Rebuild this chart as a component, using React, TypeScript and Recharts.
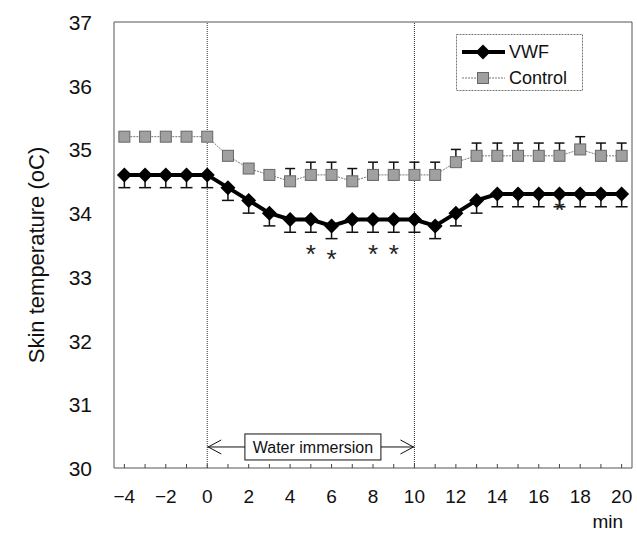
import React from 'react'
import {
  ComposedChart, Line, XAxis, YAxis, ErrorBar, ReferenceLine,
  ReferenceArea, ReferenceDot, Scatter,
} from 'recharts'

// minutes relative to the start of water immersion
const minutes = [-4, -3, -2, -1, 0, 1, 2, 3, 4, 5, 6, 7, 8, 9, 10, 11, 12, 13, 14, 15, 16, 17, 18, 19, 20]

const vwf = [34.6, 34.6, 34.6, 34.6, 34.6, 34.4, 34.2, 34.0, 33.9, 33.9, 33.8, 33.9, 33.9,
  33.9, 33.9, 33.8, 34.0, 34.2, 34.3, 34.3, 34.3, 34.3, 34.3, 34.3, 34.3]
const vwfSe = [0.2, 0.2, 0.2, 0.2, 0.2, 0.2, 0.2, 0.2, 0.2, 0.2, 0.2, 0.2, 0.2,
  0.2, 0.2, 0.2, 0.2, 0.2, 0.2, 0.2, 0.2, 0.2, 0.2, 0.2, 0.2]

const control = [35.2, 35.2, 35.2, 35.2, 35.2, 34.9, 34.7, 34.6, 34.5, 34.6, 34.6, 34.5, 34.6,
  34.6, 34.6, 34.6, 34.8, 34.9, 34.9, 34.9, 34.9, 34.9, 35.0, 34.9, 34.9]
const controlSe = [0, 0, 0, 0, 0, 0, 0, 0, 0.2, 0.2, 0.2, 0.2, 0.2,
  0.2, 0.2, 0.2, 0.2, 0.2, 0.2, 0.2, 0.2, 0.2, 0.2, 0.2, 0.2]

// significance marks
const starMinutes = [5, 6, 8, 9, 17]
const starTemps = [33.45, 33.38, 33.45, 33.45, 34.15]

const yTicks = [30, 31, 32, 33, 34, 35, 36, 37]

const FONT = '"Liberation Sans", Arial, sans-serif'

const data = minutes.map((m, i) => ({
  min: m,
  vwf: vwf[i],
  vwfErr: [vwfSe[i], 0],
  control: control[i],
  controlErr: [0, controlSe[i]],
}))

const stars = starMinutes.map((m, i) => ({ min: m, temp: starTemps[i] }))

const Diamond = ({ cx, cy }: any) => (
  <polygon
    points={`${cx},${cy - 7.5} ${cx + 7.5},${cy} ${cx},${cy + 7.5} ${cx - 7.5},${cy}`}
    fill="#000"
  />
)

const Square = ({ cx, cy }: any) => (
  <rect x={cx - 5.5} y={cy - 5.5} width={11} height={11} fill="#a0a0a0" stroke="#666" strokeWidth={1} />
)

const XTick = ({ x, y, payload }: any) => {
  const v = payload.value
  return (
    <g>
      <line x1={x} y1={y} x2={x} y2={y - 4} stroke="#444" />
      {v % 2 === 0 && (
        <text x={x} y={y + 35} textAnchor="middle" fontSize={19} fill="#111" fontFamily={FONT}>
          {v < 0 ? `\u2212${-v}` : v}
        </text>
      )}
    </g>
  )
}

const YTick = ({ x, y, payload }: any) => (
  <text x={x - 22} y={y + 8} textAnchor="end" fontSize={21} fill="#111" fontFamily={FONT}>
    {payload.value}
  </text>
)

const Star = ({ cx, cy }: any) => (
  <text x={cx} y={cy + 15} textAnchor="middle" fontSize={26} fill="#222" fontFamily={FONT}>*</text>
)

const ArrowLeft = ({ cx, cy }: any) => (
  <path d={`M${cx + 14},${cy - 7} L${cx + 1},${cy} L${cx + 14},${cy + 7}`} fill="none" stroke="#111" strokeWidth={1} />
)

const ArrowRight = ({ cx, cy }: any) => (
  <path d={`M${cx - 14},${cy - 7} L${cx - 1},${cy} L${cx - 14},${cy + 7}`} fill="none" stroke="#111" strokeWidth={1} />
)

const ImmersionBox = ({ cx, cy }: any) => (
  <g>
    <rect x={cx - 68} y={cy - 13} width={136} height={26} fill="#fff" stroke="#111" strokeWidth={1} />
    <text x={cx} y={cy + 6} textAnchor="middle" fontSize={16} fill="#111" fontFamily={FONT}>Water immersion</text>
  </g>
)

function LegendBox() {
  return (
    <svg width={128} height={58} style={{ position: 'absolute', left: 456, top: 34 }}>
      <rect x={0.5} y={0.5} width={126} height={56} fill="#fff" stroke="#777" strokeDasharray="2 1" />
      <line x1={6} y1={18} x2={49} y2={18} stroke="#000" strokeWidth={4} />
      <Diamond cx={27} cy={18} />
      <text x={53} y={24} fontSize={18} fontFamily={FONT} fill="#111">VWF</text>
      <line x1={6} y1={44} x2={49} y2={44} stroke="#777" strokeWidth={1} strokeDasharray="2 1" />
      <Square cx={27} cy={44} />
      <text x={53} y={50} fontSize={18} fontFamily={FONT} fill="#111">Control</text>
    </svg>
  )
}

export default function App() {
  return (
    <div style={{ position: 'absolute', left: 0, top: 0, width: 637, height: 533, background: '#fff' }}>
      <ComposedChart width={637} height={533} data={data} margin={{ top: 22, right: 5, left: 0, bottom: 0 }}>
        <XAxis
          dataKey="min"
          type="number"
          domain={[-4.5, 20.5]}
          ticks={minutes}
          interval={0}
          tickSize={0}
          tickMargin={0}
          axisLine={false}
          tickLine={false}
          tick={<XTick />}
          height={65}
          allowDataOverflow
          label={{
            content: ({ viewBox }: any) => (
              <text x={viewBox.x + viewBox.width - 9} y={viewBox.y + viewBox.height - 5} textAnchor="end"
                fontSize={19} fill="#111" fontFamily={FONT}>min</text>
            ),
          }}
        />
        <YAxis
          type="number"
          domain={[30, 37]}
          ticks={yTicks}
          interval={0}
          tickSize={0}
          tickMargin={0}
          axisLine={false}
          tickLine={false}
          tick={<YTick />}
          width={114}
          label={{
            content: ({ viewBox }: any) => (
              <text x={44} y={viewBox.y + viewBox.height / 2 + 10} textAnchor="middle" fontSize={22} fill="#111"
                fontFamily={FONT} transform={`rotate(-90 44 ${viewBox.y + viewBox.height / 2 + 10})`}>
                Skin temperature (oC)
              </text>
            ),
          }}
        />
        <ReferenceArea x1={-4.5} x2={20.5} y1={30} y2={37} fill="none" stroke="#555" strokeWidth={1} />
        <ReferenceLine x={0} stroke="#333" strokeDasharray="1 1" />
        <ReferenceLine x={10} stroke="#333" strokeDasharray="1 1" />
        <ReferenceLine segment={[{ x: 0, y: 30.33 }, { x: 10, y: 30.33 }]} stroke="#111" strokeWidth={1} />
        <ReferenceDot x={0} y={30.33} shape={<ArrowLeft />} />
        <ReferenceDot x={10} y={30.33} shape={<ArrowRight />} />
        <ReferenceDot x={5.1} y={30.33} shape={<ImmersionBox />} />
        <Line
          dataKey="control"
          stroke="#777"
          strokeWidth={1}
          strokeDasharray="2 1"
          dot={<Square />}
          activeDot={false}
          isAnimationActive={false}
        >
          <ErrorBar dataKey="controlErr" direction="y" width={5} stroke="#111" strokeWidth={1.5} />
        </Line>
        <Line
          dataKey="vwf"
          stroke="#000"
          strokeWidth={4}
          dot={<Diamond />}
          activeDot={false}
          isAnimationActive={false}
        >
          <ErrorBar dataKey="vwfErr" direction="y" width={6} stroke="#111" strokeWidth={1.5} />
        </Line>
        <Scatter data={stars} dataKey="temp" shape={<Star />} isAnimationActive={false} />
      </ComposedChart>
      <LegendBox />
    </div>
  )
}
